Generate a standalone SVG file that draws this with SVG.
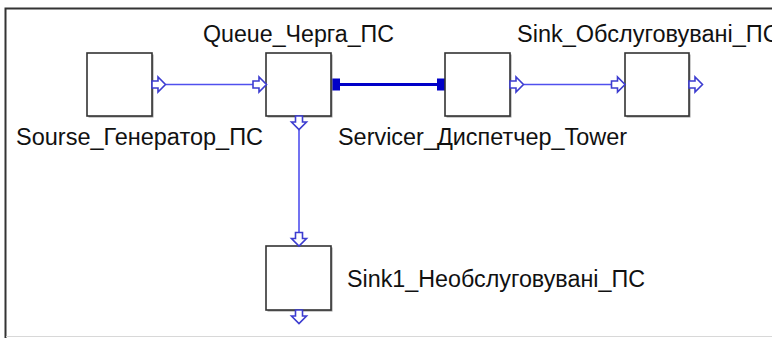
<svg xmlns="http://www.w3.org/2000/svg" width="772" height="338" viewBox="0 0 772 338">
<style>
.box{fill:#ffffff;stroke:#333333;stroke-width:1.6}
.shadow{fill:#9a9a9a}
.lbl{font-family:"Liberation Sans",Arial,sans-serif;font-size:23.5px;fill:#111111}
.port{fill:#ffffff;stroke:#3c3cd0;stroke-width:1.6;stroke-linejoin:miter}
.conn{stroke:#5050ee;stroke-width:1.6;fill:none}
.thick{stroke:#0000c8;stroke-width:3.2;fill:none}
.sq{fill:#0000c8}
</style>
<defs>
<path id="pr" d="M0,-3.5 H6 V-7.5 L13.5,0 L6,7.5 V3.5 H0 Z"/>
</defs>
<rect x="0" y="0" width="772" height="338" fill="#ffffff"/>
<g id="frame">
<path d="M5.5,338 V8.5 H772" fill="none" stroke="#333333" stroke-width="2"/>
<line x1="6" y1="336.5" x2="772" y2="336.5" stroke="#d8d8d8" stroke-width="1"/>
</g>
<g id="connectors">
<line class="conn" x1="166" y1="84.5" x2="253" y2="84.5"/>
<line class="thick" x1="340" y1="84.5" x2="438" y2="84.5"/>
<rect class="sq" x="331" y="78.5" width="9" height="12"/>
<rect class="sq" x="437" y="78.5" width="9" height="12"/>
<line class="conn" x1="524" y1="84.5" x2="612" y2="84.5"/>
<line class="conn" x1="299" y1="129" x2="299" y2="233"/>
</g>
<g id="source">
<rect class="shadow" x="88.5" y="54.5" width="65" height="63"/>
<rect class="box" x="87" y="53" width="65" height="63"/>
<use href="#pr" class="port" transform="translate(152,84.5)"/>
<text class="lbl" x="16" y="145" textLength="247" lengthAdjust="spacingAndGlyphs">Sourse_Генератор_ПС</text>
</g>
<g id="queue">
<rect class="shadow" x="267.5" y="54.5" width="65" height="63"/>
<rect class="box" x="266" y="53" width="65" height="63"/>
<use href="#pr" class="port" transform="translate(253,84.5)"/>
<use href="#pr" class="port" transform="translate(299,116) rotate(90)"/>
<text class="lbl" x="203" y="42" textLength="191" lengthAdjust="spacingAndGlyphs">Queue_Черга_ПС</text>
</g>
<g id="servicer">
<rect class="shadow" x="446.5" y="54.5" width="65" height="63"/>
<rect class="box" x="445" y="53" width="65" height="63"/>
<use href="#pr" class="port" transform="translate(510,84.5)"/>
<text class="lbl" x="338" y="145" textLength="289" lengthAdjust="spacingAndGlyphs">Servicer_Диспетчер_Tower</text>
</g>
<g id="sink">
<rect class="shadow" x="626.5" y="54.5" width="64" height="63"/>
<rect class="box" x="625" y="53" width="64" height="63"/>
<use href="#pr" class="port" transform="translate(611.5,84.5)"/>
<use href="#pr" class="port" transform="translate(689,84.5)"/>
<text class="lbl" x="517" y="42">Sink_Обслуговувані_ПС</text>
</g>
<g id="sink1">
<rect class="shadow" x="267.5" y="247.5" width="65" height="64"/>
<rect class="box" x="266" y="246" width="65" height="64"/>
<use href="#pr" class="port" transform="translate(299,232.5) rotate(90)"/>
<use href="#pr" class="port" transform="translate(299,310) rotate(90)"/>
<text class="lbl" x="347" y="287" textLength="298" lengthAdjust="spacingAndGlyphs">Sink1_Необслуговувані_ПС</text>
</g>
</svg>
